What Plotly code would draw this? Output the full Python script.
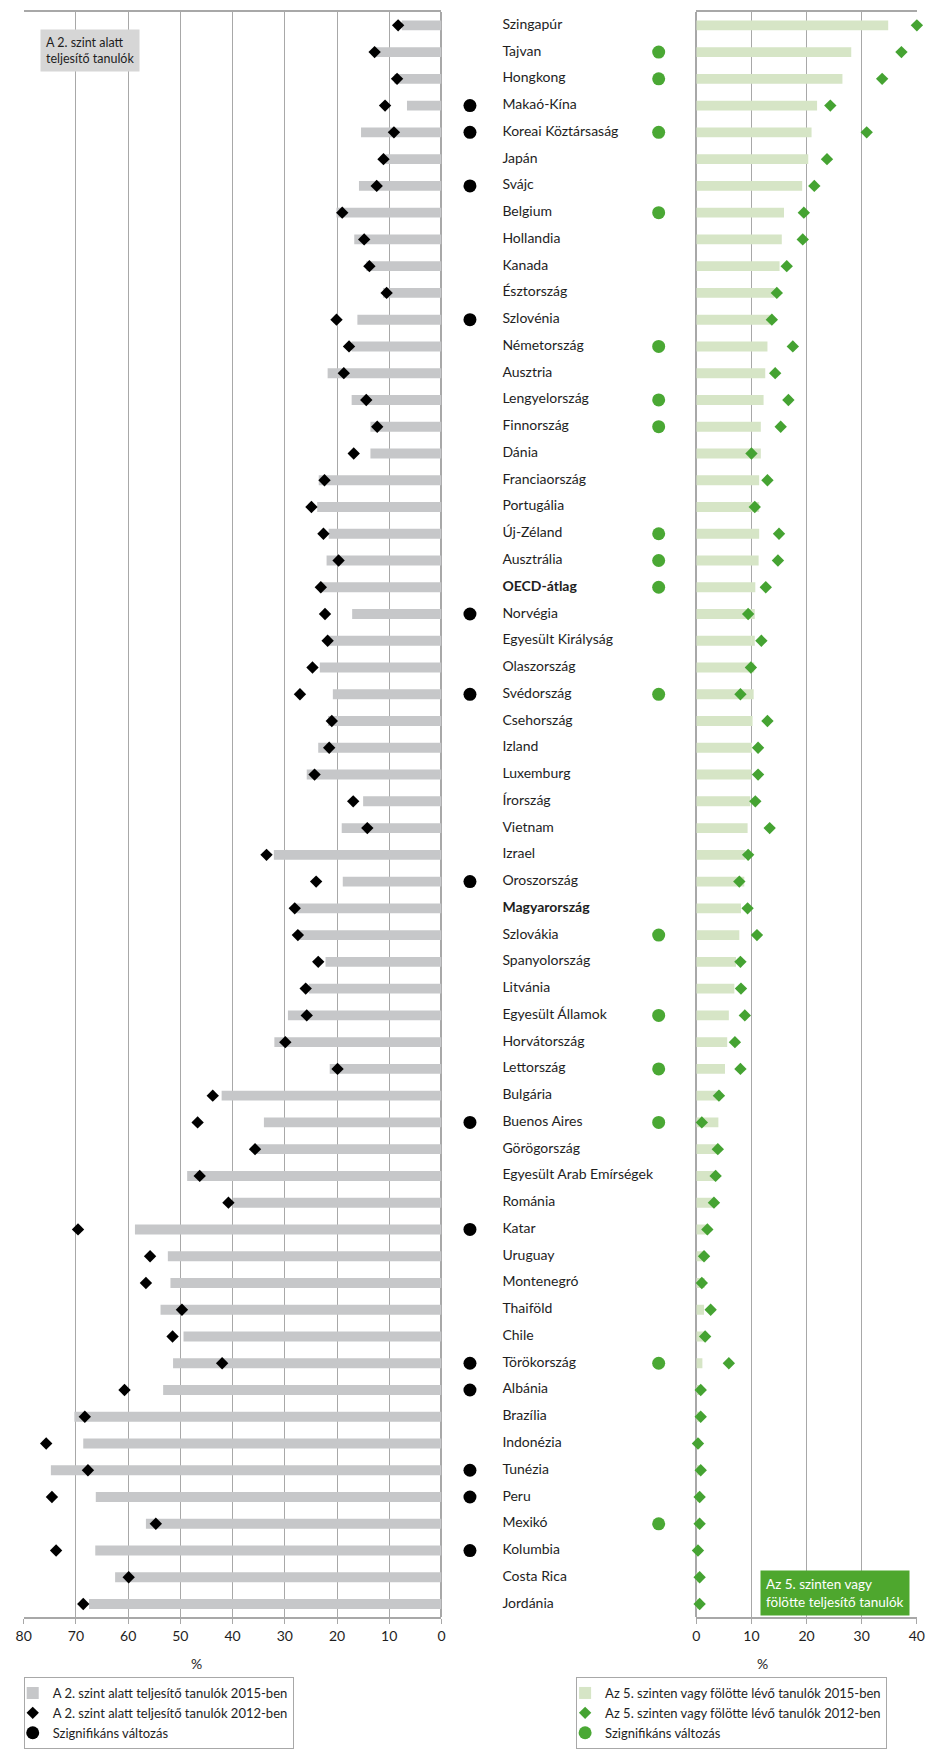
import plotly.graph_objects as go

countries = ["Szingapúr", "Tajvan", "Hongkong", "Makaó-Kína", "Koreai Köztársaság", "Japán", "Svájc",
             "Belgium", "Hollandia", "Kanada", "Észtország", "Szlovénia", "Németország", "Ausztria",
             "Lengyelország", "Finnország", "Dánia", "Franciaország", "Portugália", "Új-Zéland",
             "Ausztrália", "OECD-átlag", "Norvégia", "Egyesült Királyság", "Olaszország", "Svédország",
             "Csehország", "Izland", "Luxemburg", "Írország", "Vietnam", "Izrael", "Oroszország",
             "Magyarország", "Szlovákia", "Spanyolország", "Litvánia", "Egyesült Államok",
             "Horvátország", "Lettország", "Bulgária", "Buenos Aires", "Görögország",
             "Egyesült Arab Emírségek", "Románia", "Katar", "Uruguay", "Montenegró", "Thaiföld",
             "Chile", "Törökország", "Albánia", "Brazília", "Indonézia", "Tunézia", "Peru", "Mexikó",
             "Kolumbia", "Costa Rica", "Jordánia"]

low_2015 = [7.6, 12.7, 9.0, 6.6, 15.4, 10.7, 15.8, 20.1, 16.7, 14.4, 11.2, 16.1, 17.2, 21.8,
            17.2, 13.6, 13.6, 23.5, 23.8, 21.6, 22.0, 23.4, 17.1, 21.9, 23.3, 20.8, 21.7, 23.6,
            25.8, 15.0, 19.1, 32.1, 18.9, 28.0, 27.7, 22.2, 25.4, 29.4, 32.0, 21.4, 42.1, 34.0,
            35.8, 48.7, 39.9, 58.7, 52.4, 51.9, 53.8, 49.4, 51.4, 53.3, 70.3, 68.6, 74.8, 66.2,
            56.6, 66.3, 62.5, 67.5]
low_2012 = [8.3, 12.8, 8.5, 10.8, 9.1, 11.1, 12.4, 19.0, 14.8, 13.8, 10.5, 20.1, 17.7, 18.7,
            14.4, 12.3, 16.8, 22.4, 24.9, 22.6, 19.7, 23.1, 22.3, 21.8, 24.7, 27.1, 21.0, 21.5,
            24.3, 16.9, 14.2, 33.5, 24.0, 28.1, 27.5, 23.6, 26.0, 25.8, 29.9, 19.9, 43.8, 46.7,
            35.7, 46.3, 40.8, 69.6, 55.8, 56.6, 49.7, 51.5, 42.0, 60.7, 68.3, 75.7, 67.7, 74.6,
            54.7, 73.8, 59.9, 68.6]

top_2015 = [34.8, 28.1, 26.5, 21.9, 20.9, 20.3, 19.2, 15.9, 15.5, 15.1, 14.2, 13.5, 12.9, 12.5,
            12.2, 11.7, 11.7, 11.4, 11.4, 11.4, 11.3, 10.7, 10.6, 10.6, 10.5, 10.4, 10.2, 10.1,
            10.0, 9.8, 9.3, 8.9, 8.7, 8.1, 7.8, 7.2, 6.9, 5.9, 5.6, 5.2, 4.4, 4.0, 3.9, 3.7, 3.3,
            2.3, 1.7, 1.5, 1.4, 1.4, 1.1, 1.1, 0.9, 0.7, 0.6, 0.4, 0.3, 0.3, 0.2, 0.2]
top_2012 = [40.0, 37.2, 33.7, 24.3, 30.9, 23.7, 21.4, 19.5, 19.3, 16.4, 14.6, 13.7, 17.5, 14.3,
            16.7, 15.3, 10.0, 12.9, 10.6, 15.0, 14.8, 12.6, 9.4, 11.8, 9.9, 8.0, 12.9, 11.2,
            11.2, 10.7, 13.3, 9.4, 7.8, 9.3, 11.0, 8.0, 8.1, 8.8, 7.0, 8.0, 4.1, 1.0, 3.9, 3.5,
            3.2, 2.0, 1.4, 1.0, 2.6, 1.6, 5.9, 0.8, 0.8, 0.3, 0.8, 0.6, 0.6, 0.3, 0.6, 0.6]

sig_low = ["Makaó-Kína", "Koreai Köztársaság", "Svájc", "Szlovénia", "Norvégia", "Svédország",
           "Oroszország", "Buenos Aires", "Katar", "Törökország", "Albánia", "Tunézia", "Peru",
           "Kolumbia"]
sig_top = ["Tajvan", "Hongkong", "Koreai Köztársaság", "Belgium", "Németország", "Lengyelország",
           "Finnország", "Új-Zéland", "Ausztrália", "OECD-átlag", "Svédország", "Szlovákia",
           "Egyesült Államok", "Lettország", "Buenos Aires", "Törökország", "Mexikó"]
bold_labels = ["OECD-átlag", "Magyarország"]

left_ticks = [80, 70, 60, 50, 40, 30, 20, 10, 0]
right_ticks = [0, 10, 20, 30, 40]

W, H = 935, 1749
FONT = "Lato"
GRID = "#a8a8a8"
TXT = "#1e1e1e"

def px(v):
    return v / W

def py(v):
    return 1 - v / H

fig = go.Figure()

# left panel
fig.add_trace(go.Bar(y=countries, x=low_2015, orientation="h", width=0.37,
                     marker=dict(color="#c6c7c9", line=dict(width=0)),
                     name="A 2. szint alatt teljesítő tanulók 2015-ben",
                     xaxis="x", yaxis="y", legend="legend"))
fig.add_trace(go.Scatter(y=countries, x=low_2012, mode="markers",
                         marker=dict(symbol="diamond", size=9.5, color="black"),
                         name="A 2. szint alatt teljesítő tanulók 2012-ben", cliponaxis=False,
                         xaxis="x", yaxis="y", legend="legend"))

# middle labels
labels = [f"<b>{c}</b>" if c in bold_labels else c for c in countries]
fig.add_trace(go.Scatter(y=countries, x=[503] * len(countries), mode="text", text=labels,
                         textposition="middle right", textfont=dict(family=FONT, size=14, color=TXT),
                         showlegend=False, hoverinfo="skip", cliponaxis=False,
                         xaxis="x3", yaxis="y"))
fig.add_trace(go.Scatter(y=sig_low, x=[470] * len(sig_low), mode="markers",
                         marker=dict(symbol="circle", size=13, color="black"),
                         name="Szignifikáns változás", cliponaxis=False,
                         xaxis="x3", yaxis="y", legend="legend"))

# right panel
fig.add_trace(go.Bar(y=countries, x=top_2015, orientation="h", width=0.37,
                     marker=dict(color="#d6e5c6", line=dict(width=0)),
                     name="Az 5. szinten vagy fölötte lévő tanulók 2015-ben",
                     xaxis="x2", yaxis="y", legend="legend2"))
fig.add_trace(go.Scatter(y=countries, x=top_2012, mode="markers",
                         marker=dict(symbol="diamond", size=9.5, color="#45a332"),
                         name="Az 5. szinten vagy fölötte lévő tanulók 2012-ben", cliponaxis=False,
                         xaxis="x2", yaxis="y", legend="legend2"))
fig.add_trace(go.Scatter(y=sig_top, x=[662] * len(sig_top), mode="markers",
                         marker=dict(symbol="circle", size=13, color="#4aa834"),
                         name="Szignifikáns változás", cliponaxis=False,
                         xaxis="x3", yaxis="y", legend="legend2"))

axis_common = dict(showgrid=True, gridcolor=GRID, gridwidth=1, showline=True, linecolor=GRID,
                   linewidth=1.5, mirror=True, ticks="outside", ticklen=5, tickcolor=GRID,
                   tickfont=dict(family=FONT, size=14, color=TXT), zeroline=True,
                   zerolinecolor=GRID, zerolinewidth=2, fixedrange=True)

legend_common = dict(yanchor="top", xanchor="left", bgcolor="white", bordercolor=GRID,
                     borderwidth=1, font=dict(family=FONT, size=13, color=TXT),
                     traceorder="normal", itemwidth=30, tracegroupgap=0, indentation=-12)

fig.update_layout(
    width=W, height=H, margin=dict(l=0, r=0, t=0, b=0),
    paper_bgcolor="white", plot_bgcolor="white",
    font=dict(family=FONT, size=14, color=TXT),
    barmode="overlay",
    xaxis=dict(domain=[px(16), px(441)], range=[80, 0], tickvals=left_ticks, anchor="y",
               **axis_common),
    xaxis2=dict(domain=[px(700.3), px(924.7)], range=[0, 40], tickvals=right_ticks, anchor="y",
                **axis_common),
    xaxis3=dict(domain=[px(441), px(700.3)], range=[441, 700.3], visible=False, anchor="y",
                fixedrange=True),
    yaxis=dict(domain=[py(1623), py(12)], type="category", categoryorder="array",
               categoryarray=countries, range=[len(countries) - 0.5, -0.5],
               showticklabels=False, showgrid=False, zeroline=False, showline=False,
               ticks="", fixedrange=True),
    legend=dict(x=px(16), y=py(1683), **legend_common),
    legend2=dict(x=px(578), y=py(1683), **legend_common),
    annotations=[
        dict(text="A 2. szint alatt<br>teljesítő tanulók", xref="paper", yref="paper",
             x=px(33), y=py(29), xanchor="left", yanchor="top", align="left", showarrow=False,
             bgcolor="#d6d6d6", borderpad=5, font=dict(family=FONT, size=12.5, color=TXT)),
        dict(text="Az 5. szinten vagy<br>fölötte teljesítő tanulók", xref="paper", yref="paper",
             x=px(765), y=py(1575), xanchor="left", yanchor="top", align="left", showarrow=False,
             bgcolor="#4ea72e", borderpad=5, font=dict(family=FONT, size=13.5, color="white")),
        dict(text="%", xref="paper", yref="paper", x=px(192), y=py(1669), showarrow=False,
             xanchor="center", yanchor="middle", font=dict(family=FONT, size=14, color=TXT)),
        dict(text="%", xref="paper", yref="paper", x=px(768), y=py(1669), showarrow=False,
             xanchor="center", yanchor="middle", font=dict(family=FONT, size=14, color=TXT)),
    ],
)

fig.write_html("out.html", config={"displayModeBar": False},
               post_script="document.body.style.margin='0';document.body.style.overflow='hidden';")
